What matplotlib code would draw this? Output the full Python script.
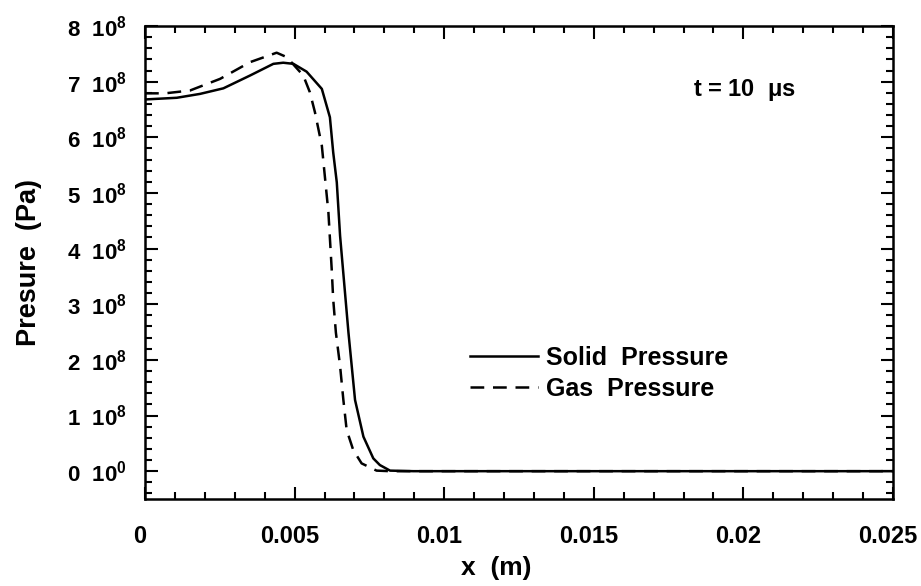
import matplotlib
matplotlib.use("Agg")
import matplotlib.pyplot as plt
import matplotlib.transforms as mtransforms
from matplotlib.ticker import MultipleLocator

# Solid and gas pressure profiles at t = 10 us
x_solid = [0.0, 0.00106, 0.00184, 0.00262, 0.00351, 0.00429, 0.00462, 0.00496,
           0.00540, 0.00591, 0.00618, 0.00629, 0.00641, 0.00652, 0.00680,
           0.00702, 0.00730, 0.00763, 0.00785, 0.00819, 0.00897, 0.015,
           0.020, 0.025]
p_solid = [6.68e8, 6.71e8, 6.78e8, 6.88e8, 7.11e8, 7.32e8, 7.34e8, 7.32e8,
           7.18e8, 6.87e8, 6.36e8, 5.73e8, 5.19e8, 4.23e8, 2.49e8,
           1.28e8, 0.62e8, 0.23e8, 0.11e8, 0.01e8, 0.0, 0.0,
           0.0, 0.0]

x_gas = [0.0, 0.00067, 0.00150, 0.00251, 0.00351, 0.00440, 0.00474, 0.00529,
         0.00551, 0.00568, 0.00591, 0.00602, 0.00613, 0.00624, 0.00629,
         0.00638, 0.00652, 0.00663, 0.00674, 0.00696, 0.00724, 0.00774,
         0.00819, 0.025]
p_gas = [6.79e8, 6.79e8, 6.84e8, 7.05e8, 7.35e8, 7.52e8, 7.44e8, 7.11e8,
         6.81e8, 6.45e8, 5.85e8, 5.25e8, 4.65e8, 3.63e8, 3.09e8,
         2.49e8, 1.89e8, 1.28e8, 0.74e8, 0.38e8, 0.14e8, 0.01e8,
         0.0, 0.0]

xtick_vals = [0, 0.005, 0.01, 0.015, 0.02, 0.025]
xtick_labels = ["0", "0.005", "0.01", "0.015", "0.02", "0.025"]
ytick_mant = [0, 1, 2, 3, 4, 5, 6, 7, 8]
ytick_exp = [0, 8, 8, 8, 8, 8, 8, 8, 8]

plt.rcParams["font.family"] = ["Liberation Sans", "DejaVu Sans"]
plt.rcParams["font.weight"] = "bold"
plt.rcParams["mathtext.fontset"] = "custom"
plt.rcParams["mathtext.rm"] = "Liberation Sans:bold"
plt.rcParams["mathtext.bf"] = "Liberation Sans:bold"
plt.rcParams["mathtext.default"] = "bf"

fig = plt.figure(figsize=(9.21, 5.86), dpi=100)
ax = fig.add_axes([145 / 921, 1 - 499 / 586, 748 / 921, 473 / 586])

ax.plot(x_solid, p_solid, color="black", lw=1.8, label="Solid  Pressure")
ax.plot(x_gas, p_gas, color="black", lw=1.8, dashes=(5.5, 3.5), label="Gas  Pressure")

ax.set_xlim(0, 0.025)
ax.set_ylim(-0.5e8, 8e8)

ax.set_xticks(xtick_vals)
ax.set_xticklabels(xtick_labels)
ax.set_yticks([m * 1e8 for m in ytick_mant])
ax.set_yticklabels([rf"{m}  $10^{{{e}}}$" for m, e in zip(ytick_mant, ytick_exp)])
ax.xaxis.set_minor_locator(MultipleLocator(0.001))
ax.yaxis.set_minor_locator(MultipleLocator(0.2e8))

ax.tick_params(which="both", direction="in", top=True, right=True, width=1.5)
ax.tick_params(which="major", length=9)
ax.tick_params(which="minor", length=5)
ax.tick_params(axis="x", labelsize=17, pad=19)
ax.tick_params(axis="y", labelsize=16, pad=13)

# x labels in the original sit a little left of their ticks
shift = mtransforms.ScaledTranslation(-5 / 100, 0, fig.dpi_scale_trans)
for lbl in ax.get_xticklabels():
    lbl.set_transform(lbl.get_transform() + shift)

for s in ax.spines.values():
    s.set_linewidth(1.8)

ax.set_xlabel("x  (m)", fontsize=19, fontweight="bold")
ax.xaxis.set_label_coords(0.47, -0.12)
ax.set_ylabel("Presure  (Pa)", fontsize=19.5, fontweight="bold")
ax.yaxis.set_label_coords(-0.138, 0.5)

ax.text(0.802, 0.865, r"t = 10  $\mu$s", transform=ax.transAxes,
        fontsize=17, fontweight="bold", ha="center", va="center")

ax.legend(loc="center left", bbox_to_anchor=(0.4345, 0.265), frameon=False,
          fontsize=18, handlelength=2.7, handletextpad=0.32, labelspacing=0.28,
          borderpad=0, borderaxespad=0)

fig.savefig("out.png", dpi=100)
